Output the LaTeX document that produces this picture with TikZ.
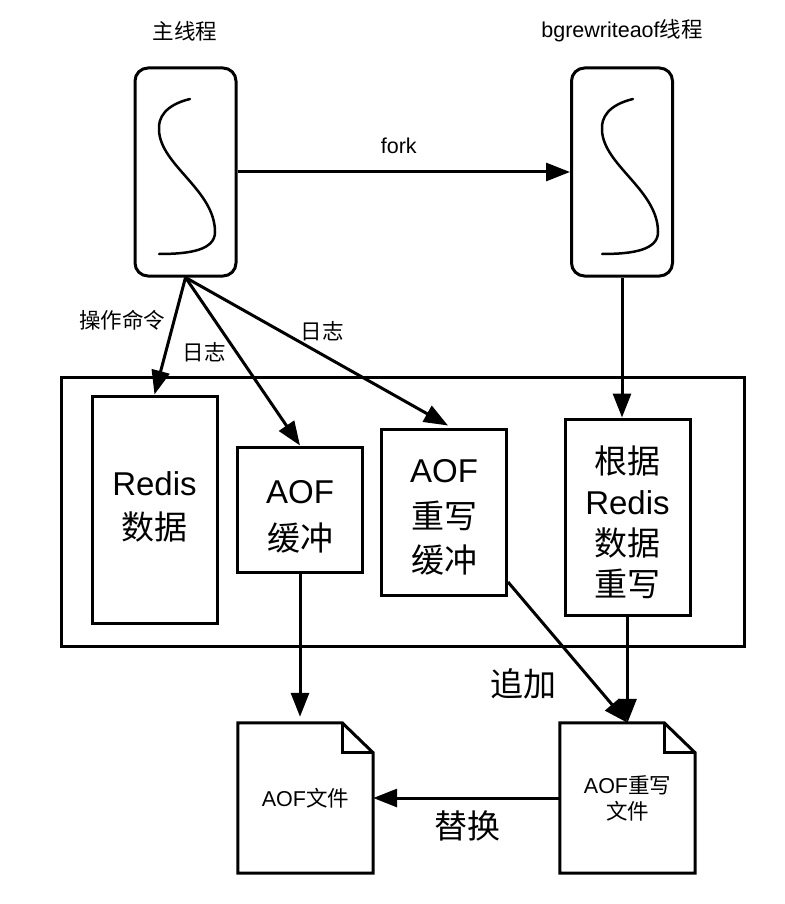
\documentclass[tikz,border=0pt]{standalone}
\usepackage{fontspec}
\setmainfont{Liberation Sans}
\newfontfamily\cjk{Noto Sans CJK SC}
\usepackage{tikz}
\usetikzlibrary{arrows.meta, positioning, calc}

\newcommand{\bigfont}{\fontsize{33}{41}\selectfont}
\newcommand{\smallfont}{\fontsize{21.5}{26}\selectfont}

\begin{document}
\begin{tikzpicture}[
    x=1pt, y=-1pt,
    thread/.style={rectangle, draw, line width=3pt, rounded corners=13pt, minimum width=101pt, minimum height=208pt},
    block/.style={rectangle, draw, line width=3pt, minimum width=125pt, inner sep=0pt},
    blocktext/.style={align=center, font=\bigfont, inner sep=0pt},
    docfile/.style={rectangle, minimum width=135pt, minimum height=150pt, align=center, font=\smallfont, inner sep=0pt},
    arr/.style={-{Stealth[length=24pt, width=18pt, inset=0pt]}, line width=3pt},
    lbl/.style={font=\smallfont, inner sep=0pt},
    biglbl/.style={font=\bigfont, inner sep=0pt},
    squiggle/.style={line width=2.5pt, line cap=round}
]
\useasboundingbox (0,0) rectangle (784,904);

% threads
\node[thread] (main) at (185.5,172) {};
\node[thread] (bg) at (622,172) {};
\node[lbl] (maintitle) at (185,31) {\cjk 主线程};
\node[lbl] (bgtitle) at (622,31) {bgrewriteaof{\cjk 线程}};
\foreach \dx in {0, 443} {
    \draw[squiggle, xshift=\dx] (190,99) .. controls (165,105) and (158,118) .. (159,130) .. controls (160,165) and (215,190) .. (215,232) .. controls (215,250) and (190,254) .. (159,254);
}

% memory area
\node[rectangle, draw, line width=3pt, minimum width=683pt, minimum height=269pt] (area) at (402.5,511.5) {};
\node[block, minimum height=227pt, label={[blocktext, yshift=3pt]center:Redis\\[3pt]{\cjk 数据}}] (redis) at (154.5,509.5) {};
\node[block, minimum height=125pt, label={[blocktext, yshift=-7pt]center:AOF\\[6pt]{\cjk 缓冲}}] (aofbuf) at (300,509.5) {};
\node[block, minimum height=166pt, label={[blocktext, yshift=-5pt]center:AOF\\[5pt]{\cjk 重写}\\[3pt]{\cjk 缓冲}}] (rewritebuf) at (444,512) {};
\node[block, minimum height=196pt, label={[blocktext, yshift=-5pt]center:{\cjk 根据}\\Redis\\{\cjk 数据}\\{\cjk 重写}}] (rewrite) at (627.5,517) {};

% files
\node[docfile] (aoffile) at (305.5,798) {AOF{\cjk 文件}};
\node[docfile] (newfile) at (627.5,798) {AOF{\cjk 重写}\\{\cjk 文件}};
\foreach \f in {aoffile, newfile} {
    \draw[line width=3pt, line join=miter] (\f.north west) -- ($(\f.north east)+(-31,0)$) -- ($(\f.north east)+(0,30)$) -- (\f.south east) -- (\f.south west) -- cycle;
    \draw[line width=3pt] ($(\f.north east)+(-31,0)$) -- ($(\f.north east)+(-31,30)$) -- ($(\f.north east)+(0,30)$);
}

% connectors
\draw[arr] (main) -- node[lbl, pos=0.485, above=17pt] (forklbl) {fork} (bg);
\draw[arr] (main.south) -- (redis.north);
\draw[arr] (main.south) -- (aofbuf.north);
\draw[arr] (main.south) -- ($(rewritebuf.north)+(4,-2)$);
\draw[arr] (bg.south) -- (bg.south |- rewrite.north);
\draw[arr] (aofbuf.south) -- ($(aofbuf.south |- aoffile.north)+(0,-6)$);
\draw[arr] (rewritebuf.south east |- 0,582) -- (newfile.north);
\draw[arr] (rewrite.south) -- (newfile.north);
\draw[arr] (newfile.west) -- (aoffile.east);

% labels
\node[lbl] (oplbl) at (122,320) {\cjk 操作命令};
\node[lbl] (loglblA) at (204,352) {\cjk 日志};
\node[lbl] (loglblB) at (322,331) {\cjk 日志};
\node[biglbl] (appendlbl) at (523,684) {\cjk 追加};
\node[biglbl] (replacelbl) at (467,826) {\cjk 替换};
\end{tikzpicture}
\end{document}
